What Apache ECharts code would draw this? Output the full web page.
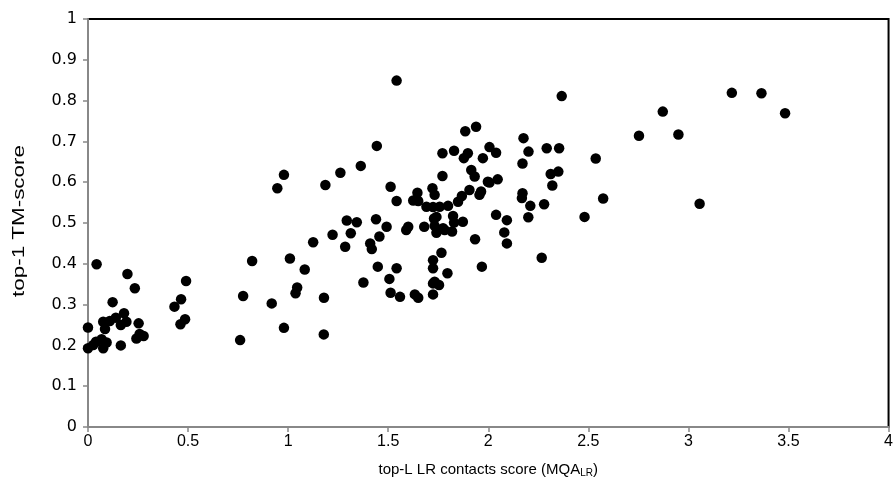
<!DOCTYPE html>
<html>
<head>
<meta charset="utf-8">
<script src="https://cdn.jsdelivr.net/npm/echarts@6/dist/echarts.min.js"></script>
<style>html,body{margin:0;padding:0;background:#fff}#c{width:896px;height:492px}</style>
</head>
<body>
<div id="c"></div>
<script>
// MQA_LR score (x) and top-1 TM-score (y)
const xValues = [
  0.043,0,0,0.026,0.04,0.068,0.076,0.093,0.076,0.085,0.123,0.109,0.139,0.164,0.18,0.192,0.164,0.197,0.234,0.253,0.242,0.258,0.278,
  0.432,0.465,0.49,0.462,0.485,
  0.76,0.775,0.82,0.918,0.946,0.979,0.979,1.009,1.083,1.045,1.037,1.125,1.179,1.178,1.186,1.222,1.261,1.285,1.293,1.313,1.343,1.363,1.376,
  1.41,1.418,1.439,1.443,1.448,1.456,1.492,1.506,1.512,1.512,1.542,1.542,1.542,1.559,1.59,1.6,1.625,1.633,1.646,1.65,1.65,1.68,1.691,1.721,1.724,1.729,1.724,1.724,1.724,1.724,1.732,1.732,1.732,1.741,1.741,1.754,
  1.757,1.766,1.771,1.771,1.774,1.782,1.796,1.799,1.819,1.824,1.829,1.829,1.849,1.868,1.873,1.878,1.885,1.898,1.906,1.915,1.932,1.934,1.939,1.956,1.964,1.968,1.973,1.998,2.006,2.006,2.039,2.047,2.039,2.08,2.093,2.093,
  2.176,2.201,2.171,2.171,2.168,2.21,2.2,2.267,2.279,2.292,2.354,2.312,2.35,2.32,2.367,2.481,2.537,2.574,2.753,2.872,2.95,3.056,3.217,3.365,3.483
];
const yValues = [
  0.399,0.244,0.193,0.201,0.209,0.215,0.193,0.207,0.258,0.24,0.306,0.26,0.268,0.25,0.279,0.258,0.2,0.375,0.34,0.254,0.217,0.228,0.223,
  0.295,0.313,0.358,0.252,0.264,
  0.213,0.321,0.407,0.303,0.585,0.618,0.243,0.413,0.386,0.342,0.328,0.453,0.317,0.227,0.593,0.471,0.623,0.442,0.506,0.475,0.502,0.64,0.354,
  0.45,0.436,0.509,0.689,0.393,0.467,0.491,0.363,0.589,0.329,0.849,0.554,0.389,0.319,0.483,0.491,0.555,0.325,0.574,0.554,0.317,0.491,0.54,0.585,0.539,0.511,0.409,0.389,0.352,0.325,0.569,0.493,0.356,0.515,0.476,0.348,
  0.54,0.427,0.671,0.615,0.487,0.483,0.377,0.542,0.479,0.517,0.677,0.501,0.552,0.566,0.503,0.659,0.725,0.671,0.581,0.63,0.614,0.46,0.736,0.569,0.577,0.393,0.659,0.601,0.686,0.599,0.672,0.607,0.52,0.477,0.507,0.45,
  0.708,0.675,0.646,0.573,0.561,0.542,0.514,0.415,0.546,0.683,0.683,0.62,0.626,0.592,0.811,0.515,0.658,0.56,0.714,0.773,0.717,0.547,0.819,0.818,0.769
];
const xTickLabels = ['0','0.5','1','1.5','2','2.5','3','3.5','4'];
const yTickLabels = ['0','0.1','0.2','0.3','0.4','0.5','0.6','0.7','0.8','0.9','1'];
const yAxisTitle = 'top-1 TM-score';

const points = xValues.map((x, i) => [x, yValues[i]]);
const font = '"Liberation Sans", Arial, sans-serif';
const chart = echarts.init(document.getElementById('c'), null, {renderer: 'canvas'});
chart.setOption({
  animation: false,
  backgroundColor: '#fff',
  grid: {left: 88, right: 3, top: 19, bottom: 65, show: true, borderColor: '#000', borderWidth: 2, backgroundColor: 'transparent'},
  graphic: [{
    type: 'text', x: 20, y: 221, rotation: Math.PI / 2, scaleX: 1.4, scaleY: 1,
    style: {text: yAxisTitle, font: '16px "Liberation Sans", Arial, sans-serif', fill: '#000', align: 'center', verticalAlign: 'middle'}
  }],
  xAxis: {
    type: 'value', min: 0, max: 4, interval: 0.5,
    name: 'top-L LR contacts score (MQA{sub|LR})',
    nameLocation: 'middle', nameGap: 34,
    nameTextStyle: {fontFamily: font, fontSize: 15, color: '#000',
      rich: {sub: {fontFamily: font, fontSize: 10, color: '#000', verticalAlign: 'bottom', padding: [7, 0, 0, 0]}}},
    axisLine: {show: true, lineStyle: {color: '#888', width: 2}},
    axisTick: {show: true, inside: false, length: 5, lineStyle: {color: '#888', width: 1.5}},
    axisLabel: {fontFamily: font, fontSize: 16, color: '#000', margin: 7,
      formatter: (v) => xTickLabels[Math.round(v / 0.5)]},
    splitLine: {show: false}
  },
  yAxis: {
    type: 'value', min: 0, max: 1, interval: 0.1,
    axisLine: {show: true, lineStyle: {color: '#888', width: 2}},
    axisTick: {show: true, inside: false, length: 5, lineStyle: {color: '#888', width: 1.5}},
    axisLabel: {fontFamily: 'DejaVu Sans, sans-serif', fontSize: 16, color: '#000', margin: 11,
      formatter: (v) => yTickLabels[Math.round(v * 10)]},
    splitLine: {show: false}
  },
  series: [{
    type: 'scatter', data: points, symbol: 'circle', symbolSize: 10.5,
    itemStyle: {color: '#000', opacity: 1}
  }]
});
</script>
</body>
</html>
